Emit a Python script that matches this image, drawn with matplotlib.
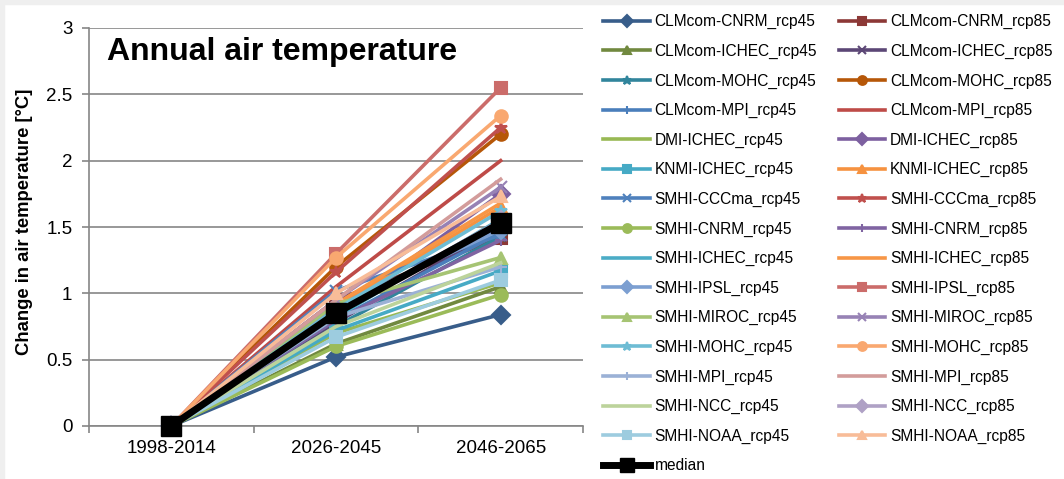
import matplotlib.pyplot as plt
from matplotlib.patches import Rectangle

plt.rcParams['font.family'] = ['Liberation Sans', 'DejaVu Sans']

# data
periods = ['1998-2014', '2026-2045', '2046-2065']
names = ['CLMcom-CNRM_rcp45', 'CLMcom-CNRM_rcp85', 'CLMcom-ICHEC_rcp45', 'CLMcom-ICHEC_rcp85',
         'CLMcom-MOHC_rcp45', 'CLMcom-MOHC_rcp85', 'CLMcom-MPI_rcp45', 'CLMcom-MPI_rcp85',
         'DMI-ICHEC_rcp45', 'DMI-ICHEC_rcp85', 'KNMI-ICHEC_rcp45', 'KNMI-ICHEC_rcp85',
         'SMHI-CCCma_rcp45', 'SMHI-CCCma_rcp85', 'SMHI-CNRM_rcp45', 'SMHI-CNRM_rcp85',
         'SMHI-ICHEC_rcp45', 'SMHI-ICHEC_rcp85', 'SMHI-IPSL_rcp45', 'SMHI-IPSL_rcp85',
         'SMHI-MIROC_rcp45', 'SMHI-MIROC_rcp85', 'SMHI-MOHC_rcp45', 'SMHI-MOHC_rcp85',
         'SMHI-MPI_rcp45', 'SMHI-MPI_rcp85', 'SMHI-NCC_rcp45', 'SMHI-NCC_rcp85',
         'SMHI-NOAA_rcp45', 'SMHI-NOAA_rcp85']
change_2026 = [0.52, 0.95, 0.62, 0.78, 0.75, 1.20, 0.80, 1.05,
               0.70, 0.85, 0.72, 0.90, 1.02, 1.16, 0.60, 0.80,
               0.82, 0.92, 0.90, 1.30, 0.92, 0.95, 0.88, 1.27,
               0.82, 0.95, 0.75, 0.85, 0.67, 1.00]
change_2046 = [0.84, 1.42, 1.05, 1.50, 1.43, 2.20, 1.46, 2.00,
               1.08, 1.75, 1.17, 1.65, 1.44, 2.25, 0.99, 1.40,
               1.56, 1.68, 1.48, 2.55, 1.27, 1.80, 1.62, 2.34,
               1.20, 1.86, 1.23, 1.55, 1.10, 1.73]
median = [0.0, 0.85, 1.53]

colors = ['#385D8A', '#8C3836', '#71893F', '#5C4776', '#31859C', '#B65708', '#4A7EBB', '#BE4B48',
          '#98B954', '#7D60A0', '#46AAC5', '#F69240', '#4F81BD', '#C0504D', '#9BBB59', '#8064A2',
          '#4BACC6', '#F79646', '#7C9FD1', '#CB6C6A', '#A6C473', '#9782B5', '#6EBCD4', '#F9A870',
          '#9BB1D6', '#D39C9B', '#BCD39B', '#AFA1C5', '#9DCCDF', '#F8BC98']
markers = ['D', 's', '^', 'x', '*', 'o', '+', 'None', 'None',
           'D', 's', '^', 'x', '*', 'o', '+', 'None', 'None',
           'D', 's', '^', 'x', '*', 'o', '+', 'None', 'None',
           'D', 's', '^']

fig = plt.figure(figsize=(10.64, 4.79), dpi=100)
# light grey frame on top and left
fig.patches.append(Rectangle((0, 1 - 4 / 479), 1, 4 / 479, transform=fig.transFigure,
                             color='#EFEFEF', zorder=0))
fig.patches.append(Rectangle((0, 0), 4 / 1064, 1, transform=fig.transFigure,
                             color='#EFEFEF', zorder=0))

ax = fig.add_axes([89 / 1064, 1 - 426 / 479, (583 - 89) / 1064, (426 - 28) / 479])
x = [1, 2, 3]

handles = []
for i, name in enumerate(names):
    vals = [0.0, change_2026[i], change_2046[i]]
    h, = ax.plot(x, vals, color=colors[i], lw=2.6, marker=markers[i], markersize=9,
                 markeredgewidth=1.5, label=name, zorder=3, clip_on=False)
    handles.append(h)
hm, = ax.plot(x, median, color='black', lw=5, marker='s', markersize=15, label='median',
              zorder=4, clip_on=False)

ax.set_xlim(0.5, 3.5)
ax.set_ylim(0, 3)
ax.set_yticks([0, 0.5, 1, 1.5, 2, 2.5, 3])
ax.set_yticklabels(['0', '0.5', '1', '1.5', '2', '2.5', '3'])
ax.set_xticks(x)
ax.set_xticklabels(periods)
ax.set_xticks([0.5, 1.5, 2.5, 3.5], minor=True)
ax.tick_params(axis='x', which='major', length=0, pad=10, labelsize=13.5)
ax.tick_params(axis='x', which='minor', length=5, width=1.2, color='#868686')
ax.tick_params(axis='y', length=5, width=1.2, color='#868686', pad=7, labelsize=13.5)
ax.grid(axis='y', color='#868686', lw=1.2)
ax.set_axisbelow(True)
for side in ['top', 'right']:
    ax.spines[side].set_visible(False)
for side in ['left', 'bottom']:
    ax.spines[side].set_color('#868686')
    ax.spines[side].set_linewidth(1.2)

ax.text(107 / 1064, 1 - 52 / 479, 'Annual air temperature', transform=fig.transFigure,
        fontsize=23, fontweight='bold', va='center', ha='left')
fig.text(25 / 1064, 1 - 222 / 479, 'Change in air temperature [°C]', rotation=90,
         fontsize=13.3, fontweight='bold', va='center', ha='center')

# legend is row-major in the reference, matplotlib fills column-first
order = handles[0::2] + [hm] + handles[1::2]
fig.legend(order, [h.get_label() for h in order], ncol=2, frameon=False,
           loc='upper left', bbox_to_anchor=(597 / 1064, 1 - 8 / 479),
           fontsize=11.2, handlelength=3.0, handletextpad=0.3, columnspacing=1.4,
           labelspacing=0.93, borderaxespad=0, markerscale=0.7)

fig.savefig('out.png', dpi=100)
